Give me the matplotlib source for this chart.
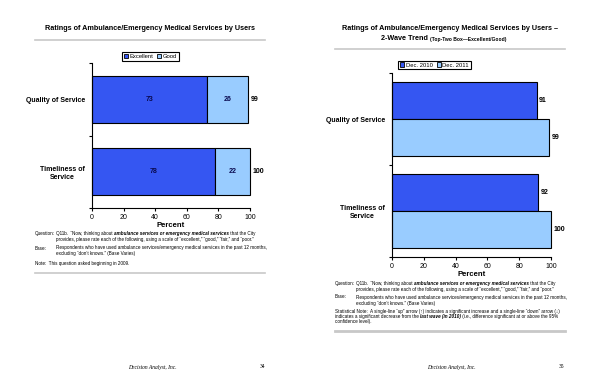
import numpy as np
import matplotlib
matplotlib.use("Agg")
import matplotlib.pyplot as plt
from matplotlib.patches import Patch

plt.rcParams['font.family'] = ['Liberation Sans', 'DejaVu Sans']

# ---- data ----
categories = ["Quality of Service", "Timeliness of\nService"]
rating_labels = ["Excellent", "Good"]
excellent = [73, 78]
good = [26, 22]
top_two = [99, 100]
wave_labels = ["Dec. 2010", "Dec. 2011"]
dec_2010 = [91, 92]
dec_2011 = [99, 100]
x_ticks = [0, 20, 40, 60, 80, 100]

DARK = "#3556F2"
LIGHT = "#99CCFF"
NAVY = "#0A0A50"
W, H = 600, 388

fig = plt.figure(figsize=(6, 3.88), dpi=100)
bg = fig.add_axes([0, 0, 1, 1])
bg.set_xlim(0, W)
bg.set_ylim(H, 0)
bg.axis('off')


def px_axes(x0, y0, x1, y1):
    return fig.add_axes([x0 / W, 1 - y1 / H, (x1 - x0) / W, (y1 - y0) / H])


def runs(x, y, parts, size=3.3):
    # text pieces with different styles, placed one after another
    t = bg.text(x, y, parts[0][0], fontsize=size, va='center', **parts[0][1])
    for s, kw in parts[1:]:
        t = bg.annotate(s, xy=(1, 0), xycoords=t, va='bottom', fontsize=size, **kw)
    return t


def style_axes(ax, pos):
    ax.set_facecolor('none')
    for s in ['top', 'right']:
        ax.spines[s].set_visible(False)
    for s in ['left', 'bottom']:
        ax.spines[s].set_linewidth(0.8)
    ax.set_xlim(0, 100)
    ax.set_ylim(1.5, -0.5)
    ax.set_xticks(x_ticks)
    ax.set_xticklabels([str(v) for v in x_ticks], fontsize=5)
    ax.tick_params(axis='x', length=2, width=0.8, pad=2)
    ax.set_yticks(pos)
    ax.set_yticklabels(categories, fontsize=5, fontweight='bold', multialignment='center')
    ax.set_yticks([-0.5, 0.5, 1.5], minor=True)
    ax.tick_params(axis='y', which='major', length=0, pad=5)
    ax.tick_params(axis='y', which='minor', length=2, width=0.8)
    ax.set_xlabel("Percent", fontsize=5.5, fontweight='bold', labelpad=1)


N = {}
BI = {'fontweight': 'bold', 'fontstyle': 'italic'}

# ================= left page =================
bg.text(150, 29, "Ratings of Ambulance/Emergency Medical Services by Users",
        fontsize=5.2, fontweight='bold', ha='center', va='center')
bg.plot([35, 265], [40, 40], color='#C8C8C8', lw=1.2)

ax1 = px_axes(92, 63, 250, 208)
pos = np.arange(len(categories))
ax1.barh(pos, excellent, height=0.65, color=DARK, edgecolor='black', linewidth=0.8, clip_on=False)
ax1.barh(pos, good, left=excellent, height=0.65, color=LIGHT, edgecolor='black', linewidth=0.8, clip_on=False)
style_axes(ax1, pos)
for i in range(len(categories)):
    ax1.text(excellent[i] / 2, pos[i], str(excellent[i]), fontsize=5, fontweight='bold',
             color=NAVY, ha='center', va='center')
    ax1.text(excellent[i] + good[i] / 2, pos[i], str(good[i]), fontsize=5, fontweight='bold',
             color=NAVY, ha='center', va='center')
    ax1.annotate(str(top_two[i]), xy=(excellent[i] + good[i], pos[i]), xytext=(1.5, 0),
                 textcoords='offset points', fontsize=5, fontweight='bold', ha='left', va='center')

h1 = [Patch(facecolor=DARK, edgecolor='black', linewidth=0.6),
      Patch(facecolor=LIGHT, edgecolor='black', linewidth=0.6)]
leg1 = fig.legend(h1, rating_labels, loc='center', bbox_to_anchor=(150.5 / W, 1 - 56.5 / H),
                  ncol=2, fontsize=4.2, fancybox=False, edgecolor='black', framealpha=1,
                  handlelength=0.7, handleheight=0.7, handletextpad=0.3, columnspacing=0.7,
                  borderpad=0.3, borderaxespad=0)
leg1.get_frame().set_linewidth(0.8)

runs(35, 233, [("Question:", N)])
runs(56, 233, [("Q11b.  \u201cNow, thinking about ", N),
               ("ambulance services or emergency medical services", BI),
               (" that the City", N)])
runs(56, 239, [("provides, please rate each of the following, using a scale of \u201cexcellent,\u201d "
                "\u201cgood,\u201d \u201cfair,\u201d and \u201cpoor.\u201d", N)])
runs(35, 248, [("Base:", N)])
runs(56, 248, [("Respondents who have used ambulance services/emergency medical services in the past 12 months,", N)])
runs(56, 254, [("excluding \u201cdon\u2019t knows.\u201d (Base Varies)", N)])
runs(35, 263, [("Note:  This question asked beginning in 2009.", N)])
bg.plot([35, 265], [273, 273], color='#C8C8C8', lw=1.2)

bg.text(152, 367, "Decision Analyst, Inc.", fontsize=4, fontstyle='italic',
        family='Liberation Serif', ha='center', va='center')
bg.text(262, 367, "34", fontsize=4, family='Liberation Serif', ha='center', va='center')

# ================= right page =================
bg.text(450, 29, "Ratings of Ambulance/Emergency Medical Services by Users \u2013",
        fontsize=5.2, fontweight='bold', ha='center', va='center')
bg.text(428, 38.5, "2-Wave Trend", fontsize=5.2, fontweight='bold', ha='right', va='center')
bg.text(429.5, 39, "(Top-Two Box\u2014Excellent/Good)", fontsize=3.6, fontweight='bold',
        ha='left', va='center')
bg.plot([335, 565], [49, 49], color='#C8C8C8', lw=1.2)

ax2 = px_axes(392, 73, 551, 257)
ax2.barh(pos - 0.2, dec_2010, height=0.4, color=DARK, edgecolor='black', linewidth=0.8, clip_on=False)
ax2.barh(pos + 0.2, dec_2011, height=0.4, color=LIGHT, edgecolor='black', linewidth=0.8, clip_on=False)
style_axes(ax2, pos)
for i in range(len(categories)):
    ax2.annotate(str(dec_2010[i]), xy=(dec_2010[i], pos[i] - 0.2), xytext=(1.5, 0),
                 textcoords='offset points', fontsize=5, fontweight='bold', ha='left', va='center')
    ax2.annotate(str(dec_2011[i]), xy=(dec_2011[i], pos[i] + 0.2), xytext=(1.5, 0),
                 textcoords='offset points', fontsize=5, fontweight='bold', ha='left', va='center')

leg2 = fig.legend(h1, wave_labels, loc='center', bbox_to_anchor=(434.5 / W, 1 - 65 / H),
                  ncol=2, fontsize=4.2, fancybox=False, edgecolor='black', framealpha=1,
                  handlelength=0.7, handleheight=0.7, handletextpad=0.3, columnspacing=0.7,
                  borderpad=0.3, borderaxespad=0)
leg2.get_frame().set_linewidth(0.8)

runs(335, 283, [("Question:", N)])
runs(356, 283, [("Q11b.  \u201cNow, thinking about ", N),
                ("ambulance services or emergency medical services", BI),
                (" that the City", N)])
runs(356, 289, [("provides, please rate each of the following, using a scale of \u201cexcellent,\u201d "
                 "\u201cgood,\u201d \u201cfair,\u201d and \u201cpoor.\u201d", N)])
runs(335, 297, [("Base:", N)])
runs(356, 297, [("Respondents who have used ambulance services/emergency medical services in the past 12 months,", N)])
runs(356, 303, [("excluding \u201cdon\u2019t knows.\u201d (Base Varies)", N)])
runs(335, 311, [("Statistical Note:  A single-line \u201cup\u201d arrow (\u2191) indicates a significant increase "
                 "and a single-line \u201cdown\u201d arrow (\u2193)", N)])
runs(335, 316.5, [("indicates a significant decrease from the ", N),
                  ("last wave (in 2010)", BI),
                  (" (i.e., difference significant at or above the 95%", N)])
runs(335, 322, [("confidence level).", N)])
bg.plot([335, 565], [331, 331], color='#C8C8C8', lw=2)

bg.text(451, 367, "Decision Analyst, Inc.", fontsize=4, fontstyle='italic',
        family='Liberation Serif', ha='center', va='center')
bg.text(562, 367, "35", fontsize=4, family='Liberation Serif', ha='center', va='center')

fig.savefig("out.png", dpi=100)
